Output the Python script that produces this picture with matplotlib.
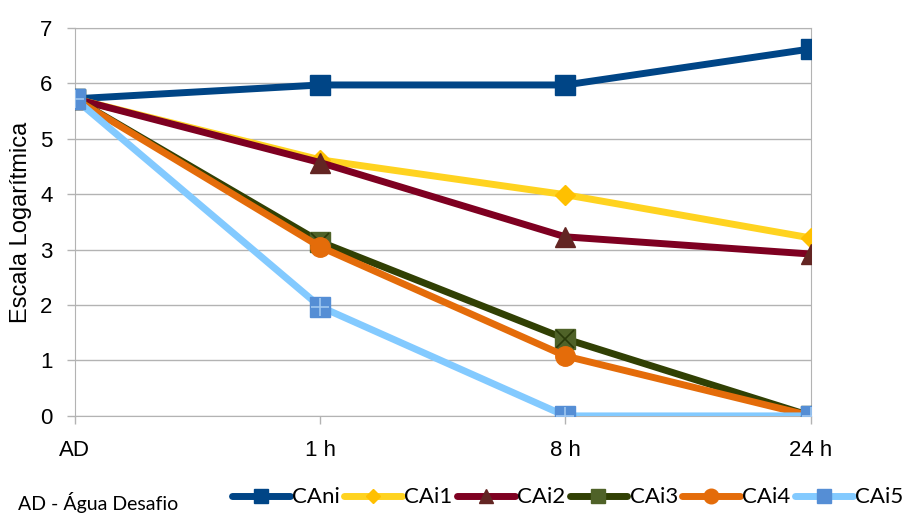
import matplotlib.pyplot as plt
import numpy as np

categorias = ["AD", "1 h", "8 h", "24 h"]
cani = [5.72, 5.97, 5.97, 6.62]
cai1 = [5.72, 4.62, 3.99, 3.21]
cai2 = [5.72, 4.57, 3.23, 2.92]
cai3 = [5.72, 3.14, 1.39, 0.0]
cai4 = [5.72, 3.05, 1.08, 0.0]
cai5 = [5.72, 1.97, 0.0, 0.0]

nomes = ["CAni", "CAi1", "CAi2", "CAi3", "CAi4", "CAi5"]
series = [cani, cai1, cai2, cai3, cai4, cai5]
cores = ["#004586", "#ffd320", "#7e0021", "#314004", "#e46c0a", "#83caff"]
marc = ["s", "D", "^", "s", "o", "s"]
face = ["#004586", "#ffc000", "#632523", "#4f6228", "#e46c0a", "#558ed5"]
msize = [14, 10, 14, 14, 14, 14]
# simbolo desenhado por cima do marcador (x no CAi3, + no CAi5)
extra = [None, None, None, "x", None, "+"]
extra_cor = [None, None, None, "#2a3a0a", None, "#9fc7f0"]

plt.rcParams['font.family'] = ['Liberation Sans', 'DejaVu Sans']

fig = plt.figure(figsize=(9.13, 5.16), dpi=100)
ax = fig.add_axes([0.082, 0.194, 0.806, 0.752])

x = np.arange(len(categorias))
for i in range(len(series)):
    ax.plot(x, series[i], color=cores[i], lw=5, marker=marc[i], ms=msize[i],
            mfc=face[i], mec=face[i], label=nomes[i], zorder=3 + i * 0.1,
            solid_capstyle='round')
    if extra[i]:
        ax.plot(x, series[i], ls='none', marker=extra[i], ms=msize[i] * 0.95,
                mec=extra_cor[i], mew=1.2, zorder=3.05 + i * 0.1)

ax.set_xlim(0, 3)
ax.set_ylim(0, 7)
ax.set_yticks(range(8))
ax.set_xticks(x)
ax.set_xticklabels(categorias)
ax.tick_params(axis='both', labelsize=16, color='#b3b3b3', length=6, width=1)
ax.tick_params(axis='x', pad=11)
ax.tick_params(axis='y', pad=10)
ax.grid(axis='y', color='#b3b3b3', lw=1)
for s in ax.spines.values():
    s.set_color('#b3b3b3')
ax.set_ylabel("Escala Logarítmica", fontsize=17, labelpad=6)

h, l = ax.get_legend_handles_labels()
fig.text(0.02, 0.012, "AD - Água Desafio", fontsize=14, family=['Lato', 'DejaVu Sans'])
fig.legend(h, l, loc='lower left', bbox_to_anchor=(0.232, -0.022), ncol=6, frameon=False,
           handlelength=2.6, handletextpad=0.1, columnspacing=0.2,
           prop={'family': ['Lato', 'DejaVu Sans'], 'size': 16}, markerscale=0.75)

fig.savefig("out.png", dpi=100)
